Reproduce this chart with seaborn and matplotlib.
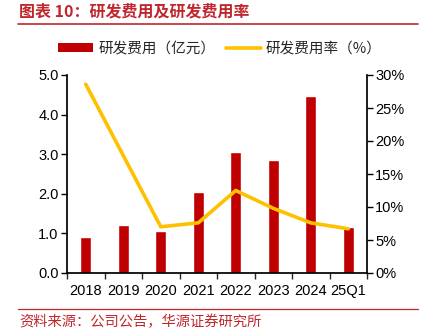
import matplotlib
matplotlib.use("Agg")
import matplotlib.pyplot as plt
import seaborn as sns
import pandas as pd
import numpy as np
from matplotlib.lines import Line2D
from matplotlib.patches import Patch

categories = ["2018", "2019", "2020", "2021", "2022", "2023", "2024", "25Q1"]
rd_expense = [0.92, 1.21, 1.07, 2.04, 3.06, 2.85, 4.47, 1.15]
rd_ratio = [28.6, 17.8, 7.0, 7.6, 12.5, 9.8, 7.6, 6.7]

bar_label = "研发费用（亿元）"
line_label = "研发费用率（%）"
title_text = "图表 10：研发费用及研发费用率"
source_text = "资料来源：公司公告，华源证券研究所"

sns.set_theme(style="white")
plt.rcParams['font.family'] = ['Liberation Sans', 'Noto Sans CJK SC', 'DejaVu Sans']
plt.rcParams['axes.unicode_minus'] = False

W, H = 425, 334
fig = plt.figure(figsize=(W / 100, H / 100), dpi=100)
ax = fig.add_axes([67 / W, 1 - 273 / H, 300 / W, 198 / H])

df = pd.DataFrame({"cat": categories, "val": rd_expense, "ratio": rd_ratio})
sns.barplot(data=df, x="cat", y="val", color="#C00000", width=0.3,
            saturation=1, ax=ax)
ax.set_ylim(0, 5)
ax.set_yticks(np.arange(0, 5.01, 1.0))
ax.set_yticklabels([f"{v:.1f}" for v in np.arange(0, 5.01, 1.0)])
ax.set_xlim(-0.5, len(categories) - 0.5)
ax.set_xlabel("")
ax.set_ylabel("")

ax2 = ax.twinx()
sns.lineplot(x=np.arange(len(categories)), y=df["ratio"], color="#FFC000",
             linewidth=2.6, ax=ax2)
ax2.set_ylim(0, 30)
ax2.set_yticks(np.arange(0, 31, 5))
ax2.set_yticklabels([f"{v}%" for v in range(0, 31, 5)])
ax2.set_ylabel("")
ax2.set_xlim(-0.5, len(categories) - 0.5)

for a in (ax, ax2):
    a.spines["top"].set_visible(False)
    a.tick_params(labelsize=10.5, colors="#000000", length=4, width=1)
ax.spines["right"].set_visible(False)
ax.spines["left"].set_color("black")
ax.spines["bottom"].set_color("black")
ax2.spines["left"].set_visible(False)
ax2.spines["bottom"].set_visible(False)
ax2.spines["right"].set_color("black")
ax.tick_params(axis="y", direction="out", left=True, pad=2)
ax2.tick_params(axis="y", direction="out", right=True, pad=2)
ax.set_xticks(np.arange(len(categories) + 1) - 0.5, minor=True)
ax.tick_params(axis="x", which="major", length=0, pad=8)
ax.tick_params(axis="x", which="minor", length=4, width=1, direction="out", bottom=True)
ax.set_xticklabels(categories)

handles = [Patch(facecolor="#C00000", edgecolor="none", label=bar_label),
           Line2D([0], [0], color="#FFC000", lw=2.6, label=line_label)]
fig.legend(handles=handles, loc="center", bbox_to_anchor=(220 / W, 1 - 49 / H),
           ncol=2, frameon=False, handlelength=2.4,
           handleheight=0.6, columnspacing=0.7, handletextpad=0.35,
           prop={"family": ["Noto Sans CJK SC", "DejaVu Sans"], "size": 10.5})

title_color = "#C0272D"
fig.text(19 / W, 1 - 11 / H, title_text, color=title_color, fontsize=11.5,
         fontweight="bold", ha="left", va="center",
         family=["Noto Sans CJK SC", "DejaVu Sans"])
fig.add_artist(Line2D([18 / W, 418 / W], [1 - 23.5 / H, 1 - 23.5 / H],
                      color=title_color, lw=1.2))
fig.add_artist(Line2D([18 / W, 418 / W], [1 - 309 / H, 1 - 309 / H],
                      color=title_color, lw=0.9))
fig.text(19 / W, 1 - 322 / H, source_text, color=title_color, fontsize=10.3,
         ha="left", va="center", family=["Noto Sans CJK SC", "DejaVu Sans"])

fig.savefig("out.png", dpi=100)
